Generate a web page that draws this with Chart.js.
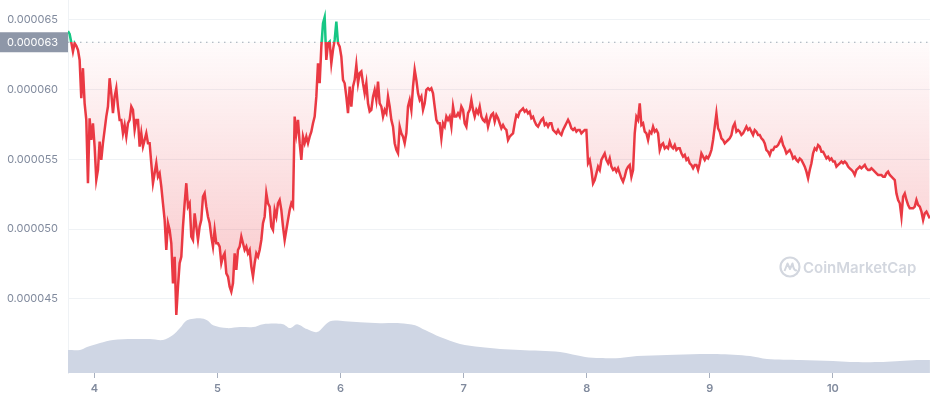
<!DOCTYPE html>
<html>
<head>
<meta charset="utf-8">
<title>Price chart</title>
<script src="https://cdn.jsdelivr.net/npm/chart.js@4.4.1/dist/chart.umd.min.js"></script>
<style>
  html, body { margin: 0; padding: 0; background: #fff; }
  .chart-wrap { position: relative; width: 930px; height: 400px; }
</style>
</head>
<body>
<div class="chart-wrap"><canvas id="priceChart"></canvas></div>
<script>
// --- Data ---
// price in millionths (x 1e-6), one sample every 19.5 minutes
const priceMicro = [
  64.2, 64.0, 63.4, 62.73, 63.33, 63.14, 62.85, 62.13, 59.38, 61.54, 59.02, 57.83, 53.29, 57.95, 56.39, 57.59,
  55.92, 53.53, 54.24, 56.27, 54.96, 56.16, 57.11, 58.07, 58.79, 60.82, 59.74, 58.31, 59.50, 60.10, 58.79, 57.83,
  57.83, 56.87, 57.47, 56.63, 57.59, 57.83, 58.79, 58.55, 57.11, 57.83, 57.83, 55.92, 56.87, 55.92, 56.39, 56.87,
  56.16, 56.16, 54.72, 53.29, 54.00, 54.72, 53.76, 54.00, 53.05, 51.85, 50.66, 48.50, 50.42, 49.94, 48.98, 46.11,
  48.02, 43.84, 45.87, 47.55, 48.02, 50.18, 51.85, 53.29, 51.61, 51.85, 49.46, 49.22, 51.13, 50.18, 49.22, 50.18,
  50.66, 52.33, 52.57,
  51.61, 50.89, 50.42, 49.46, 48.74, 49.94, 48.98, 48.98, 48.74, 47.55, 48.02, 48.26, 46.83, 46.59, 45.87, 45.51,
  46.11, 48.26, 47.07, 48.50, 48.74, 49.46, 48.98, 48.50, 48.74, 48.26, 48.50, 47.31, 46.59, 47.55, 48.26, 48.02,
  48.50, 49.22, 50.42, 50.89, 52.57, 51.85, 51.61, 50.18, 49.94, 51.37, 50.89, 51.85, 52.09, 51.37, 50.18, 49.22,
  49.94, 50.66, 51.37, 51.85, 51.61, 58.07, 56.87, 57.83, 56.16, 54.96, 56.63, 56.16, 56.63, 56.16, 56.63, 56.99,
  57.59, 58.07, 59.50, 61.89, 60.46, 63.09, 64.76, 65.2, 62.13, 63.33, 63.45, 61.89, 62.85, 63.57, 64.88, 63.33,
  63.09, 62.37, 60.70, 60.46,
  59.50, 58.31, 60.22, 58.79, 60.22, 60.70, 61.77, 60.46, 61.18, 61.30, 60.46, 59.74, 60.46, 59.02, 58.43, 58.55,
  59.50, 59.98, 59.26, 60.58, 59.02, 58.79, 58.07, 58.55, 58.31, 59.50, 58.79, 57.83, 57.35, 56.16, 55.68, 55.44,
  57.35, 56.87, 56.63, 56.16, 56.87, 58.79, 59.26, 58.55, 60.22, 61.42, 60.70, 59.74, 59.26, 59.50, 58.55, 59.02,
  59.98, 60.10, 59.98, 60.10, 59.74, 58.79, 57.83, 57.59, 57.59, 56.51, 57.59, 57.35, 58.07, 57.83, 58.07, 57.35,
  58.79, 58.07, 58.07, 58.31, 58.07, 58.79, 58.55, 57.59, 57.35, 58.31, 58.55, 59.26, 58.55, 58.07, 58.55, 58.31,
  58.79, 58.07, 57.83, 57.71,
  58.06, 57.35, 57.83, 58.18, 58.30, 57.71, 58.18, 57.95, 57.59, 57.23, 57.47, 57.23, 57.11, 56.39, 56.63, 56.75,
  56.87, 57.59, 58.18, 58.06, 58.42, 58.54, 58.66, 58.42, 58.54, 58.30, 58.42, 57.95, 58.06, 57.71, 57.47, 57.35,
  57.59, 57.83, 57.95, 57.47, 57.59, 57.35, 57.59, 57.59, 57.11, 56.99, 56.87, 57.11, 56.87, 56.75, 57.11, 57.35,
  57.59, 57.83, 57.59, 57.23, 57.11, 57.23, 56.99, 57.11, 57.11, 56.87, 56.99, 57.11, 57.11, 54.72, 54.96, 54.24,
  53.28, 53.52, 54.00, 54.48, 54.24, 54.96, 55.20, 55.43, 54.96, 54.72, 55.08, 54.48, 54.24, 54.36, 54.12, 54.36,
  54.00, 53.64, 53.40, 53.76,
  54.24, 54.48, 54.60, 53.76, 54.24, 56.87, 58.06, 57.83, 59.02, 57.47, 57.59, 56.99, 56.87, 56.39, 56.99, 56.87,
  57.35, 56.99, 57.11, 56.87, 55.67, 56.03, 56.15, 55.79, 55.91, 55.79, 56.27, 55.91, 55.79, 56.03, 55.67, 55.79,
  55.79, 55.43, 55.20, 55.32, 54.96, 55.08, 54.72, 54.60, 54.36, 54.60, 54.60, 54.24, 54.72, 55.43, 55.20, 54.96,
  55.20, 55.08, 55.32, 55.67, 56.39, 57.35, 58.30, 57.23, 56.99, 56.51, 56.39, 56.15, 56.27, 56.39, 56.51, 56.75,
  57.35, 57.59, 56.99, 57.11, 56.99, 56.75, 56.87, 57.11, 57.35, 57.11, 57.23, 56.99, 56.75, 57.11, 56.99, 56.75,
  56.75, 56.51, 56.39, 56.15,
  55.67, 55.55, 55.31, 55.67, 55.67, 55.91, 55.91, 56.03, 56.27, 56.51, 56.03, 55.79, 55.43, 55.55, 55.67, 55.43,
  55.07, 55.19, 54.96, 54.84, 55.07, 54.96, 54.72, 54.48, 54.12, 53.64, 54.24, 54.72, 55.43, 55.79, 55.67, 56.03,
  55.91, 55.55, 55.55, 55.31, 55.07, 55.19, 54.96, 55.07, 54.84, 54.84, 54.48, 54.60, 54.72, 54.84, 54.72, 54.84,
  54.72, 54.48, 54.36, 54.24, 54.12, 53.88, 54.24, 54.36, 54.48, 54.36, 54.48, 54.60, 54.36, 54.24, 54.24, 54.36,
  54.24, 54.12, 54.00, 53.88, 53.88, 53.88, 53.76, 53.76, 54.00, 54.12, 53.88, 53.76, 53.64, 53.52, 52.56, 52.09,
  51.85, 50.89, 52.33, 52.56, 52.09, 51.73, 51.49, 51.49, 51.49, 51.61, 52.09, 51.73, 51.61, 51.25, 50.65, 51.13,
  51.25, 51.01, 50.77
];
const startDay = 3.786;     // day of month of the first sample
const stepMinutes = 19.5;

// trading volume (relative, no axis shown)
const volumeDays = [
  3.786, 3.884, 3.941, 4.046, 4.152, 4.314, 4.452, 4.558, 4.639, 4.696, 4.753, 4.859, 4.916, 4.965, 5.078, 5.184,
  5.290, 5.371, 5.533, 5.590, 5.647, 5.728, 5.809, 5.915, 6.037, 6.159, 6.321, 6.484, 6.606, 6.687, 6.809, 6.971,
  7.134, 7.296, 7.459, 7.784, 7.987, 8.109, 8.271, 8.409, 8.653, 8.921, 9.059, 9.327, 9.465, 9.733, 10.001, 10.139,
  10.407, 10.545, 10.683, 10.788
];
const volumeValues = [
  23, 23, 26, 30, 33, 34, 34, 33, 38, 45, 53, 55, 53, 48, 45, 46,
  46, 49, 49, 45, 49, 44, 41, 52, 52, 51, 50, 50, 48, 43, 36, 29,
  26, 24, 23, 21, 16, 15, 15, 17, 18, 19, 19, 17, 14, 13, 12, 11,
  11, 12, 13, 13
];

const referencePrice = 0.0000634;   // dotted line / label on the axis
const yTicks = [0.000045, 0.00005, 0.000055, 0.00006, 0.000065];
const xTicks = [4, 5, 6, 7, 8, 9, 10];

const xMin = 3.7864, xMax = 10.7888;
const yMin = 0.00003968, yMax = 0.00006643;

const RED = '#ea3943';
const GREEN = '#16c784';

Chart.defaults.font.family = 'Inter, "Noto Sans", sans-serif';

// --- build points ---
const pricePoints = priceMicro.map((p, i) => ({ x: startDay + i * stepMinutes / 1440, y: p / 1e6 }));
const volumePoints = volumeDays.map((d, i) => ({ x: d, y: volumeValues[i] }));

// --- colour helpers (need the laid out chart) ---
function splitStroke(chart) {
  const { ctx, chartArea, scales } = chart;
  if (!chartArea) return RED;
  const yRef = scales.y.getPixelForValue(referencePrice);
  const stop = Math.min(1, Math.max(0, (yRef - chartArea.top) / (chartArea.bottom - chartArea.top)));
  const g = ctx.createLinearGradient(0, chartArea.top, 0, chartArea.bottom);
  g.addColorStop(0, GREEN);
  g.addColorStop(stop, GREEN);
  g.addColorStop(stop, RED);
  g.addColorStop(1, RED);
  return g;
}

function redFill(chart) {
  const { ctx, chartArea, scales } = chart;
  if (!chartArea) return 'rgba(234,57,67,0.1)';
  const yRef = scales.y.getPixelForValue(referencePrice);
  const g = ctx.createLinearGradient(0, yRef, 0, chartArea.bottom);
  g.addColorStop(0, 'rgba(234,57,67,0.02)');
  g.addColorStop(1, 'rgba(234,57,67,0.36)');
  return g;
}

// --- label box for the reference price ---
const refLabel = {
  id: 'refLabel',
  afterDraw(chart) {
    const { ctx, scales } = chart;
    const y = scales.y.getPixelForValue(referencePrice);
    ctx.save();
    ctx.fillStyle = '#8e97a8';
    ctx.fillRect(0, y - 10, scales.y.right, 20);
    ctx.fillStyle = '#ffffff';
    ctx.font = '11px Inter, "Noto Sans", sans-serif';
    ctx.textAlign = 'right';
    ctx.textBaseline = 'middle';
    ctx.fillText(referencePrice.toFixed(6), scales.y.right - 10, y);
    ctx.restore();
  }
};

// --- watermark ---
const watermark = {
  id: 'watermark',
  beforeDatasetsDraw(chart) {
    const { ctx, chartArea } = chart;
    const cx = chartArea.right - 140, cy = chartArea.bottom - 106;
    ctx.save();
    ctx.strokeStyle = '#d3d7df';
    ctx.lineWidth = 2.2;
    ctx.beginPath();
    ctx.arc(cx, cy, 9.5, 0, Math.PI * 2);
    ctx.stroke();
    ctx.lineWidth = 2;
    ctx.lineJoin = 'round';
    ctx.beginPath();
    ctx.moveTo(cx - 5.5, cy + 4);
    ctx.lineTo(cx - 2.5, cy - 3.5);
    ctx.lineTo(cx, cy + 2);
    ctx.lineTo(cx + 2.5, cy - 3.5);
    ctx.quadraticCurveTo(cx + 4, cy + 5, cx + 7, cy + 3);
    ctx.stroke();
    ctx.fillStyle = '#d3d7df';
    ctx.font = '600 15px Inter, "Noto Sans", sans-serif';
    ctx.textBaseline = 'middle';
    ctx.fillText('CoinMarketCap', cx + 13, cy + 1);
    ctx.restore();
  }
};

// --- Chart setup ---
const ctx = document.getElementById('priceChart').getContext('2d');
const priceChart = new Chart(ctx, {
  type: 'line',
  data: {
    datasets: [
      {
        label: 'Price',
        data: pricePoints,
        yAxisID: 'y',
        borderColor: c => splitStroke(c.chart),
        backgroundColor: c => redFill(c.chart),
        fill: { target: { value: referencePrice }, above: 'rgba(22,199,132,0.12)' },
        borderWidth: 2.5,
        pointRadius: 0,
        tension: 0,
        order: 0
      },
      {
        label: 'Open',
        data: [{ x: xMin, y: referencePrice }, { x: xMax, y: referencePrice }],
        yAxisID: 'y',
        borderColor: '#a3aab8',
        borderWidth: 1.2,
        borderDash: [1.5, 4.5],
        pointRadius: 0,
        fill: false,
        order: 1
      },
      {
        label: 'Volume',
        data: volumePoints,
        yAxisID: 'yVolume',
        borderWidth: 0,
        borderColor: 'rgba(0,0,0,0)',
        backgroundColor: '#cfd6e4',
        fill: 'origin',
        pointRadius: 0,
        tension: 0.3,
        order: 2
      }
    ]
  },
  options: {
    responsive: true,
    maintainAspectRatio: false,
    animation: false,
    layout: { padding: 0 },
    plugins: { legend: { display: false }, tooltip: { enabled: false } },
    scales: {
      x: {
        type: 'linear',
        min: xMin,
        max: xMax,
        afterBuildTicks: s => { s.ticks = xTicks.map(v => ({ value: v })); },
        afterFit: s => { s.height = 27; s.paddingLeft = 0; s.paddingRight = 0; },
        grid: { drawOnChartArea: false, drawTicks: true, tickLength: 5, color: '#a8b0bf' },
        border: { display: false },
        ticks: {
          padding: 4,
          maxRotation: 0,
          color: '#808a9d',
          font: { size: 11, weight: '600' },
          callback: v => String(v)
        }
      },
      y: {
        min: yMin,
        max: yMax,
        afterBuildTicks: s => { s.ticks = yTicks.map(v => ({ value: v })); },
        afterFit: s => { s.width = 68; s.paddingTop = 0; s.paddingBottom = 0; },
        grid: { color: '#eff2f5', drawTicks: false },
        border: { display: true, color: '#eff2f5' },
        ticks: {
          padding: 10,
          color: '#808a9d',
          font: { size: 11 },
          callback: v => v.toFixed(6)
        }
      },
      yVolume: {
        display: false,
        min: 0,
        max: Math.max(...volumeValues) * 6.8
      }
    }
  },
  plugins: [refLabel, watermark]
});
</script>
</body>
</html>
